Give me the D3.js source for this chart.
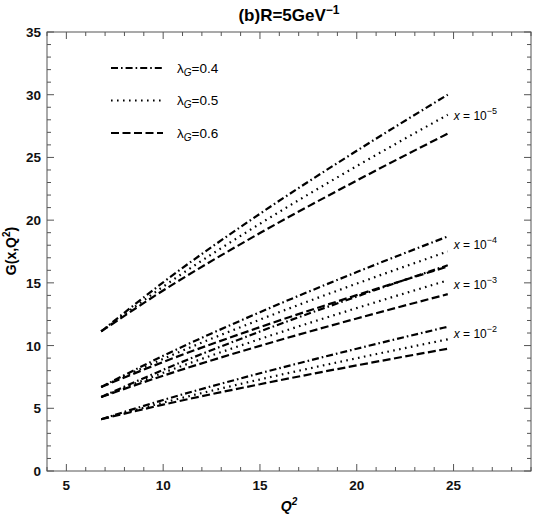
<!DOCTYPE html>
<html><head><meta charset="utf-8">
<script src="https://cdn.jsdelivr.net/npm/d3@7"></script>
<style>body{margin:0;background:#fff}svg{display:block}text{font-family:"Liberation Sans",Arial,sans-serif}</style>
</head><body><svg id="c" width="534" height="517"></svg>
<script>
const q2 = [6.8, 10, 15, 20, 24.7];
const x5_l04 = [11.13, 15.04, 20.51, 25.53, 30.0];
const x5_l05 = [11.13, 14.70, 19.71, 24.31, 28.4];
const x5_l06 = [11.13, 14.39, 18.97, 23.16, 26.9];
const x4_l04 = [6.7, 9.18, 12.66, 15.86, 18.7];
const x4_l05 = [6.7, 8.94, 12.07, 14.94, 17.5];
const x4_l06 = [6.7, 8.69, 11.47, 14.02, 16.3];
const x3_l04 = [5.9, 8.07, 11.12, 13.91, 16.4];
const x3_l05 = [5.9, 7.83, 10.52, 12.99, 15.2];
const x3_l06 = [5.9, 7.60, 9.98, 12.16, 14.1];
const x2_l04 = [4.13, 5.66, 7.79, 9.75, 11.5];
const x2_l05 = [4.13, 5.45, 7.30, 8.99, 10.5];
const x2_l06 = [4.13, 5.29, 6.92, 8.42, 9.75];
const lambdas = ["0.4", "0.5", "0.6"];
const xLabels = ["−5", "−4", "−3", "−2"];
const xTicks = [5, 10, 15, 20, 25];
const yTicks = [0, 5, 10, 15, 20, 25, 30, 35];

const groups = [[x5_l04, x5_l05, x5_l06],[x4_l04, x4_l05, x4_l06],[x3_l04, x3_l05, x3_l06],[x2_l04, x2_l05, x2_l06]];
const dashes = ["7,3,1.6,3", "1.6,4.4", "8,3.5"];
const labelY = [28.3, 18.0, 14.8, 10.9];

const svg = d3.select("#c");
const L = 47, R = 531, T = 32, B = 471;
const x = d3.scaleLinear().domain([4, 29]).range([L, R]);
const y = d3.scaleLinear().domain([0, 35]).range([B, T]);
const frameCol = "#555";

svg.append("rect").attr("x", L).attr("y", T).attr("width", R - L).attr("height", B - T)
  .attr("fill", "none").attr("stroke", frameCol).attr("stroke-width", 1);

const minorX = d3.range(4, 30, 1), minorY = d3.range(0, 36, 1);
minorX.forEach(v => {
  const len = v % 5 === 0 ? 7 : 4;
  svg.append("line").attr("x1", x(v)).attr("x2", x(v)).attr("y1", B).attr("y2", B - len).attr("stroke", frameCol);
  svg.append("line").attr("x1", x(v)).attr("x2", x(v)).attr("y1", T).attr("y2", T + len).attr("stroke", frameCol);
});
minorY.forEach(v => {
  const len = v % 5 === 0 ? 7 : 4;
  svg.append("line").attr("y1", y(v)).attr("y2", y(v)).attr("x1", L).attr("x2", L + len).attr("stroke", frameCol);
  svg.append("line").attr("y1", y(v)).attr("y2", y(v)).attr("x1", R).attr("x2", R - len).attr("stroke", frameCol);
});
svg.append("g").selectAll("text").data(xTicks).join("text")
  .attr("x", d => x(d)).attr("y", B + 19).attr("text-anchor", "middle")
  .attr("font-size", 13.5).attr("font-weight", "bold").attr("fill", "#111").text(d => d);
svg.append("g").selectAll("text").data(yTicks).join("text")
  .attr("x", L - 6).attr("y", d => y(d) + 5).attr("text-anchor", "end")
  .attr("font-size", 13.5).attr("font-weight", "bold").attr("fill", "#111").text(d => d);

const t = svg.append("text").attr("x", 289).attr("y", 21).attr("text-anchor", "middle")
  .attr("font-size", 17).attr("font-weight", "bold");
t.append("tspan").text("(b)R=5GeV");
t.append("tspan").attr("dy", -7).attr("font-size", 12).text("−1");

const xl = svg.append("text").attr("x", 289).attr("y", 511).attr("text-anchor", "middle")
  .attr("font-size", 14).attr("font-weight", "bold").attr("font-style", "italic");
xl.append("tspan").text("Q");
xl.append("tspan").attr("dy", -6).attr("font-size", 10).text("2");
const yl = svg.append("text").attr("transform", "translate(16,251) rotate(-90)").attr("text-anchor", "middle")
  .attr("font-size", 14).attr("font-weight", "bold");
yl.append("tspan").text("G(x,Q");
yl.append("tspan").attr("dy", -6).attr("font-size", 10).text("2");
yl.append("tspan").attr("dy", 6).text(")");

const line = d3.line().x((d, i) => x(q2[i])).y(d => y(d)).curve(d3.curveMonotoneX);
groups.forEach((g, gi) => {
  g.forEach((s, si) => {
    svg.append("path").attr("d", line(s)).attr("fill", "none").attr("stroke", "#000")
      .attr("stroke-width", 2.2).attr("stroke-dasharray", dashes[si]);
  });
  const lt = svg.append("text").attr("x", x(24.7) + 6).attr("y", y(labelY[gi]) + 4)
    .attr("font-size", 12);
  lt.append("tspan").attr("font-style", "italic").text("x");
  lt.append("tspan").text(" = 10");
  lt.append("tspan").attr("dy", -6).attr("font-size", 9).text(xLabels[gi]);
});

lambdas.forEach((l, i) => {
  const ly = 68 + i * 32.5;
  svg.append("line").attr("x1", 111).attr("x2", 163).attr("y1", ly).attr("y2", ly)
    .attr("stroke", "#000").attr("stroke-width", 2.2).attr("stroke-dasharray", dashes[i]);
  const tx = svg.append("text").attr("x", 177).attr("y", ly + 4.5).attr("font-size", 13.5);
  tx.append("tspan").text("λ");
  tx.append("tspan").attr("dy", 3).attr("font-size", 10).attr("font-style", "italic").text("G");
  tx.append("tspan").attr("dy", -3).text("=" + l);
});
</script></body></html>
